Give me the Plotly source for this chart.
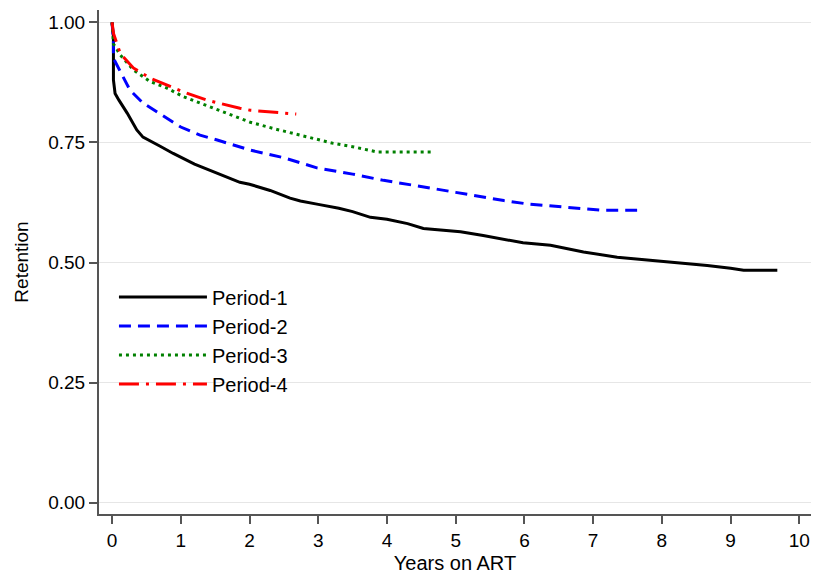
import plotly.graph_objects as go

# Period-1 (black, solid)
p1_t = [0, 0.02, 0.02, 0.044, 0.1, 0.22, 0.36, 0.45, 0.7, 0.89, 1.2, 1.5, 1.86, 2.0, 2.3, 2.59, 2.74, 3.0, 3.3, 3.5, 3.76, 4.0, 4.3, 4.53, 4.8, 5.07, 5.4, 5.7, 5.98, 6.38, 6.86, 7.35, 7.83, 8.2, 8.66, 9.0, 9.19, 9.68]
p1_v = [1.0, 0.97, 0.88, 0.852, 0.838, 0.811, 0.776, 0.761, 0.742, 0.727, 0.705, 0.688, 0.667, 0.663, 0.650, 0.634, 0.628, 0.621, 0.613, 0.606, 0.594, 0.590, 0.581, 0.571, 0.568, 0.564, 0.556, 0.548, 0.541, 0.536, 0.522, 0.511, 0.505, 0.500, 0.494, 0.488, 0.484, 0.484]

# Period-2 (blue, dashed)
p2_t = [0, 0.02, 0.02, 0.12, 0.26, 0.45, 0.8, 1.0, 1.28, 1.53, 2.01, 2.5, 2.98, 3.5, 3.95, 4.3, 4.63, 5.0, 5.4, 5.7, 6.04, 6.62, 7.1, 7.64]
p2_v = [1.0, 0.963, 0.925, 0.897, 0.859, 0.832, 0.800, 0.782, 0.765, 0.755, 0.734, 0.718, 0.697, 0.684, 0.671, 0.662, 0.655, 0.646, 0.636, 0.629, 0.622, 0.615, 0.609, 0.609]

# Period-3 (green, dotted)
p3_t = [0, 0.02, 0.12, 0.31, 0.55, 0.8, 1.04, 1.28, 1.55, 2.01, 2.4, 2.74, 3.22, 3.5, 3.86, 4.66]
p3_v = [1.0, 0.955, 0.932, 0.901, 0.877, 0.863, 0.845, 0.832, 0.817, 0.792, 0.777, 0.765, 0.748, 0.741, 0.730, 0.730]

# Period-4 (red, dash-dot)
p4_t = [0, 0.02, 0.12, 0.31, 0.55, 0.8, 1.04, 1.38, 1.6, 1.86, 2.01, 2.3, 2.63, 2.68]
p4_v = [1.0, 0.977, 0.935, 0.905, 0.884, 0.870, 0.855, 0.838, 0.830, 0.821, 0.817, 0.813, 0.809, 0.809]

x_ticks = [0, 1, 2, 3, 4, 5, 6, 7, 8, 9, 10]
y_ticks = [0.0, 0.25, 0.5, 0.75, 1.0]
y_tick_labels = ["0.00", "0.25", "0.50", "0.75", "1.00"]

FONT = "Liberation Sans, Arial, Helvetica, sans-serif"

fig = go.Figure()
series = [
    ("Period-1", p1_t, p1_v, "#000000", "solid"),
    ("Period-2", p2_t, p2_v, "#0000FF", "12px,7px"),
    ("Period-3", p3_t, p3_v, "#008000", "3px,4px"),
    ("Period-4", p4_t, p4_v, "#FF0000", "20px,7px,3px,7px"),
]
for name, t, v, col, dash in series:
    fig.add_trace(go.Scatter(x=t, y=v, name=name, mode="lines",
                             line=dict(color=col, width=3, dash=dash)))

fig.update_layout(
    width=813, height=577,
    margin=dict(l=99, r=2, t=10, b=63),
    paper_bgcolor="white", plot_bgcolor="white",
    font=dict(family=FONT, size=19, color="black"),
    showlegend=True,
    legend=dict(x=0.021, y=0.469, xanchor="left", yanchor="top",
                bgcolor="rgba(0,0,0,0)", font=dict(size=20),
                itemwidth=88, tracegroupgap=0),
    xaxis=dict(range=[-0.19, 10.17], tickvals=x_ticks, showgrid=False,
               showline=True, linecolor="#555555", linewidth=2,
               ticks="outside", ticklen=8, tickwidth=2, tickcolor="#555555",
               zeroline=False,
               title=dict(text="Years on ART", font=dict(size=20), standoff=6)),
    yaxis=dict(range=[-0.0235, 1.0256], tickvals=y_ticks, ticktext=y_tick_labels,
               showgrid=True, gridcolor="#e6e6e6", gridwidth=1,
               showline=True, linecolor="#555555", linewidth=2,
               ticks="outside", ticklen=8, tickwidth=2, tickcolor="#555555",
               zeroline=False,
               title=dict(text="Retention", font=dict(size=19), standoff=15)),
)

fig.write_html("out.html", config={"displayModeBar": False},
               post_script="document.body.style.margin='0';document.body.style.padding='0';")
